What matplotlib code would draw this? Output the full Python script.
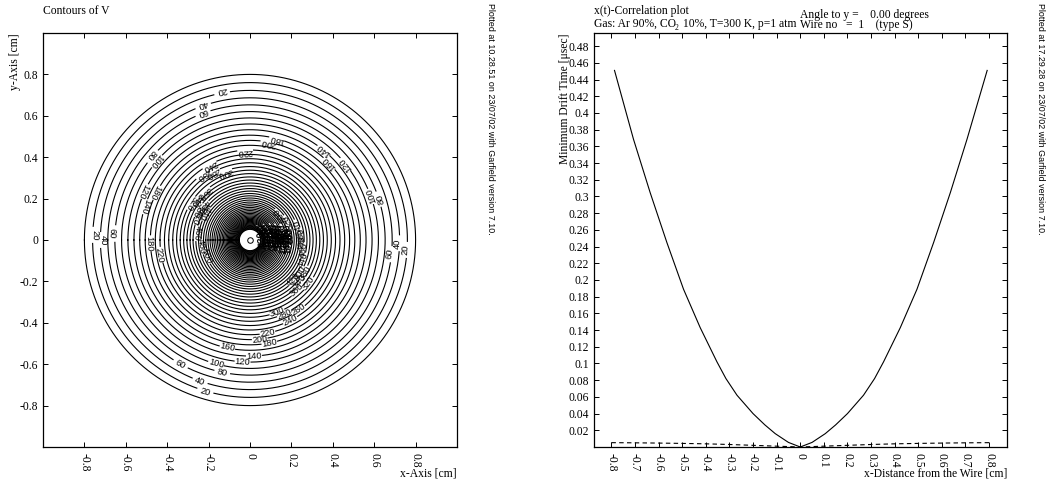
#!/usr/bin/env python3
"""Garfield plots: contours of V and the x(t)-correlation of a drift tube."""

import matplotlib

matplotlib.use("Agg")
import matplotlib.pyplot as plt
import numpy as np

WIDTH, HEIGHT = 1046, 480

# left panel: radii of the contour rings, outside to inside, in cm
ring_radii = [
    0.8, 0.7604, 0.7227, 0.6869, 0.6529, 0.6205, 0.5898, 0.5606, 0.5328, 0.5064,
    0.4813, 0.4575, 0.4348, 0.4133, 0.3928, 0.3733, 0.3548, 0.3373, 0.3206, 0.3047,
    0.2896, 0.2752, 0.2616, 0.2486, 0.2363, 0.2246, 0.2135, 0.2029, 0.1929, 0.1833,
    0.1742, 0.1656, 0.1574, 0.1496, 0.1422, 0.1351, 0.1284, 0.1221, 0.1160, 0.1103,
    0.1048, 0.0996, 0.0947, 0.0900, 0.0855, 0.0813, 0.0773, 0.0734, 0.0698, 0.0663,
    0.0631, 0.0599, 0.0570, 0.0541, 0.0515,
]
wire_x = [0.0]
wire_y = [0.0]

# contour labels as they sit on the rings
label_text = [
    "20", "40", "60", "80", "100", "120", "180", "140", "220", "180", "60", "40", "20",
    "240", "260", "280", "300", "220",
    "320", "340", "360", "380", "400", "420", "440", "460", "480", "500",
    "180", "200", "140", "160", "120", "100", "80",
    "60", "40", "20", "220", "200", "180", "140",
    "240", "260", "280", "300",
    "320", "340", "360", "380", "400", "420", "440", "460", "480",
    "500", "520", "540", "560",
    "60", "40", "20", "160", "120", "100", "80",
    "580", "600", "620", "640", "660", "680", "700", "720", "740", "760", "780",
    "800", "820", "840", "860", "880", "900", "920", "940", "960", "980", "1000",
    "1020", "1040", "1060", "1080",
]
label_x = [
    -0.137, -0.229, -0.229, -0.478, -0.454, -0.515, -0.459, -0.507, -0.438, -0.486, -0.668, -0.709, -0.749,
    -0.193, -0.226, -0.177, -0.121, -0.024,
    -0.282, -0.258, -0.217, -0.25, -0.226, -0.258, -0.217, -0.255, -0.233, -0.209,
    0.129, 0.088, 0.357, 0.383, 0.462, 0.588, 0.631,
    0.676, 0.712, 0.749, 0.084, 0.048, 0.093, 0.019,
    0.193, 0.233, 0.169, 0.129,
    0.282, 0.242, 0.226, 0.266, 0.242, 0.209, 0.258, 0.258, 0.25,
    0.145, 0.185, 0.233, 0.25,
    -0.335, -0.242, -0.217, -0.11, -0.037, -0.164, -0.134,
    0.06, 0.085, 0.11, 0.135, 0.16, 0.185, 0.07, 0.095, 0.12, 0.145, 0.17,
    0.195, 0.055, 0.08, 0.105, 0.13, 0.155, 0.18, 0.09, 0.115, 0.14, 0.165,
    0.19, 0.125, 0.15, 0.175,
]
label_y = [
    0.721, 0.657, 0.618, 0.411, 0.383, 0.238, 0.233, 0.161, -0.072, -0.016, 0.032, 0.0, 0.024,
    0.357, 0.314, 0.322, 0.325, 0.427,
    0.177, 0.193, 0.226, 0.145, 0.161, 0.113, 0.129, 0.032, -0.032, -0.081,
    0.488, 0.467, 0.435, 0.37, 0.366, 0.213, 0.201,
    -0.068, -0.016, -0.048, -0.448, -0.48, -0.496, -0.56,
    -0.386, -0.338, -0.362, -0.346,
    -0.209, -0.201, -0.242, -0.161, -0.161, -0.193, -0.097, -0.048, -0.016,
    0.121, 0.088, 0.064, 0.024,
    -0.599, -0.684, -0.733, -0.52, -0.591, -0.599, -0.639,
    0.05, 0.05, 0.048, 0.046, 0.044, 0.042, 0.028, 0.028, 0.026, 0.024, 0.022,
    0.02, 0.008, 0.008, 0.006, 0.004, 0.002, 0.0, -0.012, -0.012, -0.014, -0.016,
    -0.018, 0.036, 0.034, 0.012,
]
left_ticks = [-0.8, -0.6, -0.4, -0.2, 0, 0.2, 0.4, 0.6, 0.8]
left_labels = ["-0.8", "-0.6", "-0.4", "-0.2", "0", "0.2", "0.4", "0.6", "0.8"]

# right panel: drift time curve and the dashed error band
curve_x = [
    -0.787, -0.7065, -0.636, -0.565, -0.4945, -0.424, -0.353, -0.315, -0.268, -0.2, -0.15, -0.106, -0.05, 0.0,
    0.05, 0.106, 0.15, 0.2, 0.268, 0.315, 0.353, 0.424, 0.4945, 0.565, 0.636, 0.7065, 0.792,
]
curve_t = [
    0.451, 0.3685, 0.3047, 0.2448, 0.1889, 0.143, 0.102, 0.082, 0.062, 0.04, 0.0265, 0.016, 0.0055, 0.0,
    0.0055, 0.016, 0.0265, 0.04, 0.062, 0.082, 0.102, 0.143, 0.1889, 0.2448, 0.3047, 0.3685, 0.451,
]
band_x = [-0.8, -0.7, -0.6, -0.5, -0.4, -0.3, -0.2, -0.1, 0.0, 0.1, 0.2, 0.3, 0.4, 0.5, 0.6, 0.7, 0.8]
band_t = [
    0.0052, 0.005, 0.0047, 0.0043, 0.0038, 0.003, 0.002, 0.001, 0.0,
    0.001, 0.002, 0.003, 0.0038, 0.0043, 0.0047, 0.005, 0.0052,
]
right_xticks = [-0.8, -0.7, -0.6, -0.5, -0.4, -0.3, -0.2, -0.1, 0, 0.1, 0.2, 0.3, 0.4, 0.5, 0.6, 0.7, 0.8]
right_xlabels = [
    "-0.8", "-0.7", "-0.6", "-0.5", "-0.4", "-0.3", "-0.2", "-0.1", "0",
    "0.1", "0.2", "0.3", "0.4", "0.5", "0.6", "0.7", "0.8",
]
right_yticks = [
    0.02, 0.04, 0.06, 0.08, 0.1, 0.12, 0.14, 0.16, 0.18, 0.2, 0.22, 0.24,
    0.26, 0.28, 0.3, 0.32, 0.34, 0.36, 0.38, 0.4, 0.42, 0.44, 0.46, 0.48,
]
right_ylabels = [
    "0.02", "0.04", "0.06", "0.08", "0.1", "0.12", "0.14", "0.16", "0.18", "0.2", "0.22", "0.24",
    "0.26", "0.28", "0.3", "0.32", "0.34", "0.36", "0.38", "0.4", "0.42", "0.44", "0.46", "0.48",
]

LABEL_GAP = 0.04  # half length of the break in a ring, in cm
TEXT_SIZE = 8.4


def make_axes(fig, left, top, right, bottom):
    ax = fig.add_axes([left / WIDTH, 1 - bottom / HEIGHT, (right - left) / WIDTH, (bottom - top) / HEIGHT])
    for spine in ax.spines.values():
        spine.set_linewidth(0.9)
    ax.tick_params(direction="in", length=3.4, width=0.7, top=True, right=True, labelsize=TEXT_SIZE, pad=3.5)
    ax.tick_params(axis="x", labelrotation=270, pad=4)
    return ax


def put_text(fig, px, py, text, **kwargs):
    fig.text(px / WIDTH, 1 - py / HEIGHT, text, **kwargs)


def plot_contours(ax):
    radii = np.array(ring_radii)
    lx = np.array(label_x)
    ly = np.array(label_y)
    lr = np.hypot(lx, ly)
    la = np.arctan2(ly, lx)
    nearest = np.abs(radii[:, None] - lr[None, :]).argmin(axis=0)

    theta = np.linspace(-np.pi, np.pi, 1441)
    for i, r in enumerate(radii):
        xs = r * np.cos(theta)
        ys = r * np.sin(theta)
        for a in la[nearest == i]:
            diff = np.angle(np.exp(1j * (theta - a)))
            hide = np.abs(diff) < LABEL_GAP / r
            xs[hide] = np.nan
            ys[hide] = np.nan
        ax.plot(xs, ys, color="black", linewidth=0.8)

    for text, x, y, a in zip(label_text, lx, ly, la):
        # the labels close to the wire pile up into a black patch
        weight = "bold" if int(text) >= 580 else "normal"
        ax.text(x, y, text, rotation=np.degrees(a) + 90, rotation_mode="anchor", ha="center", va="center",
                fontsize=6.7, family="Liberation Sans", fontweight=weight)
    ax.plot(wire_x, wire_y, "o", mfc="white", mec="black", ms=4, mew=0.7)

    ax.set_xlim(-1, 1)
    ax.set_ylim(-1, 1)
    ax.set_xticks(left_ticks, left_labels)
    ax.set_yticks(left_ticks, left_labels)


def plot_correlation(ax):
    ax.plot(curve_x, curve_t, color="black", linewidth=0.8)
    ax.plot(band_x, band_t, color="black", linewidth=0.8, linestyle=(0, (4, 3)))
    ax.set_xlim(-0.876, 0.876)
    ax.set_ylim(0, 0.4958)
    ax.set_xticks(right_xticks, right_xlabels)
    ax.set_yticks(right_yticks, right_ylabels)


def main():
    plt.rcParams["font.family"] = "Liberation Serif"

    fig = plt.figure(figsize=(WIDTH / 100, HEIGHT / 100), dpi=100)
    ax1 = make_axes(fig, 43, 33, 457, 447)
    ax2 = make_axes(fig, 593.5, 33, 1007, 447)
    plot_contours(ax1)
    plot_correlation(ax2)

    size = TEXT_SIZE
    put_text(fig, 43, 11, "Contours of V", fontsize=size, va="center")
    put_text(fig, 15, 33, "y-Axis [cm]", fontsize=size, rotation=90, ha="center", va="top")
    put_text(fig, 457, 473, "x-Axis [cm]", fontsize=size, ha="right", va="center")

    put_text(fig, 593.5, 11, "x(t)-Correlation plot", fontsize=size, va="center")
    # the gas line is three pieces so that CO2 gets a real subscript without mathtext spacing
    put_text(fig, 593.5, 24, "Gas: Ar 90%, CO", fontsize=size, va="center")
    put_text(fig, 674.5, 28, "2", fontsize=5.6, va="center")
    put_text(fig, 680, 24, " 10%, T=300 K, p=1 atm", fontsize=size, va="center")
    put_text(fig, 800.5, 15, "Angle to y =    0.00 degrees", fontsize=size, va="center")
    put_text(fig, 800.5, 25, "Wire no   =  1    (type S)", fontsize=size, va="center")
    put_text(fig, 565, 33, "Minimum Drift Time [μsec]", fontsize=size, rotation=90, ha="center", va="top")
    put_text(fig, 1007, 473, "x-Distance from the Wire [cm]", fontsize=size, ha="right", va="center")

    stamp = dict(fontsize=6.4, family="Liberation Sans", rotation=270, ha="center", va="top")
    put_text(fig, 491, 3, "Plotted at 10.28.51 on 23/07/02 with Garfield version 7.10.", **stamp)
    put_text(fig, 1041, 3, "Plotted at 17.29.28 on 23/07/02 with Garfield version 7.10.", **stamp)

    fig.savefig("out.png", dpi=100)


if __name__ == "__main__":
    main()
